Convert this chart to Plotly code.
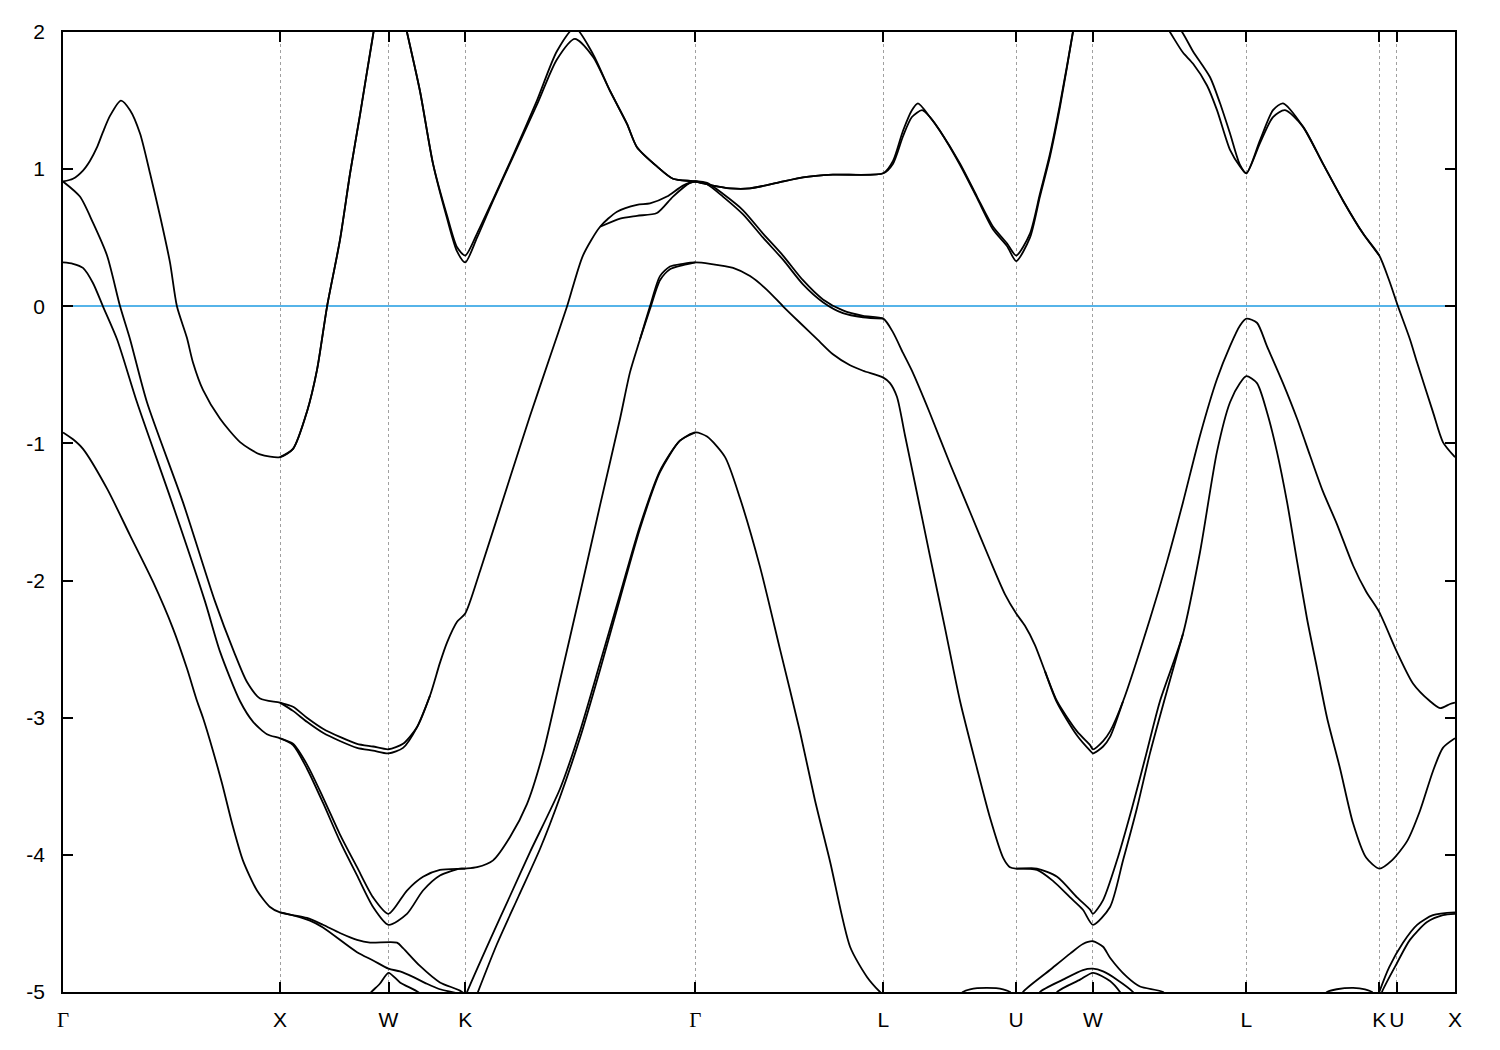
import plotly.graph_objects as go

# High-symmetry points along the k-path
kpath_pos = [0.0, 1.0, 1.5, 1.8536, 2.9142, 3.7802, 4.3926, 4.7462, 5.4533, 6.0657, 6.147, 6.4147]
kpath_lbl = ["Γ", "X", "W", "K", "Γ", "L", "U", "W", "L", "K", "U", "X"]
energy_ticks = [2, 1, 0, -1, -2, -3, -4, -5]

# Bands as (k, E) pairs
band_A1 = [(0, 0.91), (0.046, 0.93), (0.092, 0.99), (0.124, 1.06), (0.157, 1.16), (0.184, 1.27), (0.217, 1.39),
           (0.267, 1.50), (0.309, 1.43),
           (0.355, 1.26), (0.401, 0.97), (0.447, 0.66), (0.493, 0.32), (0.525, 0.0), (0.571, -0.23), (0.599, -0.41),
           (0.645, -0.61), (0.724, -0.82), (0.816, -0.99), (0.908, -1.08), (1.0, -1.10), (1.060, -1.04), (1.124, -0.77),
           (1.171, -0.46), (1.217, 0.0), (1.276, 0.48), (1.323, 0.97), (1.369, 1.40), (1.429, 1.98), (1.5, 2.6),
           (1.585, 2.0), (1.645, 1.57), (1.705, 1.04), (1.770, 0.66), (1.816, 0.43), (1.8536, 0.37), (1.908, 0.53),
           (1.982, 0.78), (2.074, 1.10), (2.184, 1.50), (2.276, 1.86), (2.359, 2.03), (2.442, 1.84), (2.521, 1.57),
           (2.599, 1.33), (2.645, 1.16), (2.737, 1.02), (2.811, 0.93), (2.9142, 0.91), (2.995, 0.88), (3.074, 0.86),
           (3.166, 0.86), (3.290, 0.90), (3.410, 0.94), (3.548, 0.96), (3.7802, 0.97), (3.825, 1.06), (3.871, 1.28),
           (3.912, 1.43), (3.940, 1.48), (3.995, 1.38), (4.041, 1.28), (4.134, 1.04), (4.212, 0.80), (4.286, 0.58),
           (4.350, 0.46), (4.3926, 0.37), (4.456, 0.53), (4.502, 0.82), (4.548, 1.11), (4.594, 1.47), (4.654, 2.0),
           (4.7462, 2.9), (5.101, 2.0), (5.161, 1.85), (5.207, 1.77), (5.272, 1.61), (5.318, 1.43), (5.378, 1.14),
           (5.424, 1.02), (5.4533, 0.97), (5.516, 1.21), (5.576, 1.43), (5.622, 1.48), (5.714, 1.31), (5.806, 1.04),
           (5.899, 0.77), (5.991, 0.53), (6.0657, 0.37), (6.111, 0.19), (6.152, 0.0), (6.207, -0.24), (6.240, -0.41),
           (6.313, -0.77), (6.359, -0.99), (6.4147, -1.10)]

band_A2 = [(1.0, -1.10), (1.060, -1.04), (1.124, -0.77), (1.171, -0.46), (1.217, 0.0), (1.276, 0.48), (1.323, 0.97),
           (1.369, 1.40), (1.429, 1.98), (1.5, 2.6), (1.585, 2.0), (1.645, 1.57), (1.705, 1.04), (1.770, 0.64),
           (1.816, 0.40), (1.8536, 0.32), (1.908, 0.50), (1.982, 0.77), (2.074, 1.09), (2.184, 1.47), (2.276, 1.80),
           (2.359, 1.95), (2.442, 1.82), (2.521, 1.57), (2.599, 1.33), (2.645, 1.16), (2.737, 1.02), (2.811, 0.93),
           (2.9142, 0.91), (2.995, 0.88), (3.074, 0.86), (3.166, 0.86), (3.290, 0.90), (3.410, 0.94), (3.548, 0.96),
           (3.7802, 0.97), (3.825, 1.04), (3.871, 1.24), (3.912, 1.38), (3.959, 1.43), (3.995, 1.38), (4.041, 1.28),
           (4.134, 1.03), (4.212, 0.79), (4.286, 0.56), (4.350, 0.44), (4.3926, 0.33), (4.456, 0.50), (4.502, 0.80),
           (4.548, 1.09), (4.594, 1.45), (4.654, 2.0), (4.7462, 2.9), (5.157, 2.0), (5.207, 1.86), (5.286, 1.67),
           (5.332, 1.48), (5.378, 1.26), (5.424, 1.03), (5.4533, 0.97), (5.516, 1.19), (5.576, 1.38), (5.631, 1.43),
           (5.714, 1.31), (5.806, 1.04), (5.899, 0.77), (5.991, 0.53), (6.0657, 0.37)]

band_B1 = [(0, 0.91), (0.078, 0.80), (0.138, 0.61), (0.203, 0.37), (0.263, 0.0), (0.309, -0.24), (0.387, -0.70),
           (0.553, -1.43), (0.700, -2.15), (0.788, -2.52), (0.848, -2.74), (0.908, -2.86), (1.0, -2.89), (1.060, -2.92),
           (1.124, -3.00), (1.198, -3.08), (1.276, -3.14), (1.355, -3.19), (1.429, -3.21), (1.5, -3.23), (1.567, -3.19),
           (1.631, -3.07), (1.691, -2.84), (1.737, -2.60), (1.770, -2.45), (1.816, -2.30), (1.8536, -2.24),
           (1.922, -1.93), (2.060, -1.25), (2.152, -0.80), (2.244, -0.37), (2.323, 0.0), (2.396, 0.37), (2.475, 0.58),
           (2.553, 0.69), (2.645, 0.74), (2.705, 0.75), (2.783, 0.80), (2.857, 0.88), (2.9142, 0.91), (2.968, 0.90),
           (3.041, 0.82), (3.134, 0.70), (3.226, 0.53), (3.318, 0.37), (3.410, 0.19), (3.502, 0.05), (3.594, -0.03),
           (3.687, -0.07), (3.7802, -0.09), (3.825, -0.19), (3.871, -0.34), (3.912, -0.47), (3.995, -0.78),
           (4.088, -1.15), (4.180, -1.50), (4.272, -1.85), (4.341, -2.10), (4.3926, -2.24), (4.433, -2.33),
           (4.479, -2.47), (4.525, -2.66), (4.581, -2.88), (4.673, -3.10), (4.733, -3.20), (4.7462, -3.23),
           (4.793, -3.17), (4.825, -3.10), (4.885, -2.88), (5.009, -2.28), (5.088, -1.86), (5.161, -1.43),
           (5.240, -0.94), (5.318, -0.53), (5.378, -0.29), (5.424, -0.14), (5.4533, -0.09), (5.502, -0.12),
           (5.548, -0.29), (5.622, -0.56), (5.687, -0.82), (5.747, -1.09), (5.806, -1.35), (5.871, -1.59),
           (5.945, -1.89), (6.005, -2.08), (6.0657, -2.23), (6.147, -2.52), (6.221, -2.75), (6.300, -2.88),
           (6.346, -2.93), (6.392, -2.90), (6.4147, -2.89)]

band_B2_XWK = [(1.0, -2.89), (1.060, -2.95), (1.124, -3.03), (1.198, -3.11), (1.276, -3.17), (1.355, -3.22),
               (1.429, -3.24), (1.5, -3.26), (1.567, -3.22), (1.631, -3.07), (1.691, -2.84)]
band_B2_KGL = [(2.475, 0.58), (2.567, 0.64), (2.645, 0.66), (2.737, 0.68), (2.811, 0.80), (2.889, 0.90),
               (2.9142, 0.91), (2.968, 0.89), (3.041, 0.80), (3.134, 0.67), (3.226, 0.50), (3.318, 0.34),
               (3.410, 0.16), (3.502, 0.03), (3.594, -0.05), (3.687, -0.08), (3.7802, -0.09)]
band_B2_UWL = [(4.525, -2.66), (4.581, -2.89), (4.673, -3.13), (4.733, -3.24), (4.7462, -3.26), (4.793, -3.21),
               (4.825, -3.14), (4.885, -2.88)]

band_C1 = [(0, 0.32), (0.046, 0.31), (0.092, 0.28), (0.138, 0.17), (0.184, 0.0), (0.249, -0.24), (0.341, -0.70),
           (0.502, -1.43), (0.654, -2.15), (0.724, -2.52), (0.816, -2.88), (0.876, -3.03), (0.940, -3.12),
           (1.0, -3.15), (1.060, -3.19), (1.124, -3.34), (1.198, -3.58), (1.276, -3.85), (1.355, -4.09),
           (1.429, -4.31), (1.5, -4.43), (1.585, -4.26), (1.659, -4.16), (1.737, -4.11), (1.8536, -4.10),
           (1.908, -4.09), (1.982, -4.04), (2.060, -3.87), (2.138, -3.63), (2.212, -3.26), (2.290, -2.73),
           (2.382, -2.10), (2.475, -1.45), (2.567, -0.82), (2.613, -0.48), (2.659, -0.24), (2.705, 0.0),
           (2.751, 0.22), (2.797, 0.29), (2.857, 0.31), (2.9142, 0.32), (2.982, 0.31), (3.088, 0.28), (3.166, 0.22),
           (3.244, 0.12), (3.318, 0.0), (3.396, -0.12), (3.475, -0.24), (3.548, -0.35), (3.627, -0.43),
           (3.687, -0.47), (3.7802, -0.52), (3.811, -0.56), (3.843, -0.66), (3.880, -0.94), (3.926, -1.29),
           (3.995, -1.82), (4.065, -2.35), (4.134, -2.88), (4.212, -3.37), (4.272, -3.73), (4.332, -4.02),
           (4.364, -4.09), (4.3926, -4.10), (4.488, -4.10), (4.581, -4.16), (4.673, -4.31), (4.733, -4.40),
           (4.7462, -4.43), (4.793, -4.33), (4.857, -4.04), (4.926, -3.66), (4.991, -3.27), (5.055, -2.88),
           (5.161, -2.39), (5.240, -1.79), (5.318, -1.06), (5.378, -0.70), (5.424, -0.56), (5.4533, -0.51),
           (5.502, -0.56), (5.548, -0.77), (5.594, -1.06), (5.641, -1.43), (5.687, -1.86), (5.733, -2.28),
           (5.779, -2.64), (5.825, -3.0), (5.885, -3.37), (5.945, -3.77), (6.005, -4.02), (6.0657, -4.10),
           (6.124, -4.04), (6.194, -3.90), (6.253, -3.68), (6.313, -3.39), (6.359, -3.22), (6.4147, -3.15)]

band_C2_XWK = [(1.0, -3.15), (1.060, -3.20), (1.124, -3.37), (1.198, -3.62), (1.276, -3.90), (1.355, -4.15),
               (1.429, -4.38), (1.5, -4.51), (1.585, -4.43), (1.659, -4.26), (1.737, -4.15), (1.829, -4.10),
               (1.8536, -4.10)]
band_C2_KG = [(2.659, -0.24), (2.705, -0.02), (2.751, 0.19), (2.797, 0.27), (2.857, 0.30), (2.9142, 0.32)]
band_C2_UWL = [(4.3926, -4.10), (4.488, -4.11), (4.562, -4.19), (4.641, -4.31), (4.700, -4.40), (4.7462, -4.51),
               (4.825, -4.38), (4.885, -4.04), (4.949, -3.66), (5.009, -3.26), (5.074, -2.88), (5.161, -2.39)]

band_D = [(0, -0.92), (0.046, -0.97), (0.092, -1.04), (0.203, -1.33), (0.309, -1.67), (0.415, -2.01),
          (0.507, -2.35), (0.571, -2.64), (0.618, -2.88), (0.645, -3.00), (0.691, -3.24), (0.733, -3.48),
          (0.779, -3.77), (0.829, -4.04), (0.894, -4.26), (0.954, -4.38), (1.0, -4.42), (1.124, -4.46),
          (1.198, -4.51), (1.276, -4.57), (1.355, -4.62), (1.415, -4.64), (1.539, -4.64), (1.567, -4.68),
          (1.645, -4.81), (1.737, -4.93), (1.829, -4.99), (1.88, -5.05)]
band_F = [(1.0, -4.42), (1.032, -4.43), (1.138, -4.48), (1.198, -4.53), (1.355, -4.71), (1.429, -4.77),
          (1.5, -4.83), (1.553, -4.85), (1.613, -4.89), (1.677, -4.94), (1.737, -4.98), (1.816, -5.01), (1.86, -5.05)]
band_G = [(1.40, -5.05), (1.415, -5.01), (1.46, -4.94), (1.5, -4.86), (1.553, -4.93), (1.645, -5.01), (1.66, -5.05)]

band_E1 = [(1.85, -5.05), (1.862, -5.0), (1.968, -4.62), (2.060, -4.30), (2.152, -3.98), (2.290, -3.52),
           (2.382, -3.10), (2.475, -2.60), (2.567, -2.10), (2.659, -1.60), (2.751, -1.20), (2.843, -0.98),
           (2.9142, -0.92), (2.968, -0.95), (3.051, -1.10), (3.120, -1.40), (3.212, -1.90), (3.304, -2.50),
           (3.396, -3.10), (3.465, -3.60), (3.535, -4.05), (3.627, -4.67), (3.705, -4.89), (3.765, -5.0),
           (3.80, -5.05)]
band_E2 = [(1.90, -5.05), (1.912, -5.0), (2.00, -4.65), (2.10, -4.30), (2.20, -3.95), (2.290, -3.58),
           (2.382, -3.15), (2.475, -2.65), (2.567, -2.13), (2.659, -1.62), (2.751, -1.21), (2.843, -0.98),
           (2.9142, -0.92)]

band_H1 = [(4.12, -5.05), (4.147, -5.0), (4.180, -4.98), (4.258, -4.97), (4.332, -4.98), (4.364, -5.0), (4.38, -5.05)]
band_H2 = [(5.80, -5.05), (5.825, -5.0), (5.87, -4.98), (5.945, -4.97), (6.00, -4.98), (6.032, -5.0), (6.05, -5.05)]
band_I1 = [(4.41, -5.05), (4.424, -5.0), (4.548, -4.84), (4.641, -4.72), (4.700, -4.65), (4.7462, -4.63),
           (4.793, -4.67), (4.825, -4.75), (4.903, -4.89), (4.963, -4.96), (5.069, -5.0), (5.09, -5.05)]
band_I2 = [(4.49, -5.05), (4.502, -5.0), (4.608, -4.91), (4.700, -4.84), (4.7462, -4.83), (4.793, -4.85),
           (4.857, -4.91), (4.931, -5.0), (4.95, -5.05)]
band_I3 = [(4.57, -5.05), (4.581, -5.0), (4.687, -4.91), (4.7462, -4.86), (4.825, -4.92), (4.871, -5.0), (4.89, -5.05)]
band_J1 = [(6.055, -5.05), (6.0657, -5.0), (6.111, -4.82), (6.175, -4.64), (6.240, -4.51), (6.313, -4.44), (6.4147, -4.42)]
band_J2 = [(6.07, -5.05), (6.078, -5.0), (6.147, -4.79), (6.207, -4.62), (6.286, -4.49), (6.359, -4.44), (6.4147, -4.43)]

bands = [band_A1, band_A2, band_B1, band_B2_XWK, band_B2_KGL, band_B2_UWL, band_C1, band_C2_XWK, band_C2_KG,
         band_C2_UWL, band_D, band_F, band_G, band_E1, band_E2, band_H1, band_H2, band_I1, band_I2, band_I3,
         band_J1, band_J2]

fig = go.Figure()
for b in bands:
    fig.add_trace(go.Scatter(
        x=[p[0] for p in b], y=[p[1] for p in b], mode="lines",
        line=dict(color="black", width=1.8, shape="spline", smoothing=0.7),
        showlegend=False, hoverinfo="skip"))

tick_text = ["<span style='font-family:Liberation Serif'>Γ</span>" if t == "Γ" else t for t in kpath_lbl]

fig.update_layout(
    width=1492, height=1042,
    margin=dict(l=55, r=45, t=17, b=58),
    paper_bgcolor="white", plot_bgcolor="white",
    font=dict(family="Liberation Sans, Arial, sans-serif", size=21, color="black"),
    showlegend=False,
)
fig.update_xaxes(
    range=[0, kpath_pos[-1]], tickmode="array", tickvals=kpath_pos, ticktext=tick_text,
    showgrid=True, gridcolor="#a0a0a0", gridwidth=1, griddash="dot",
    showline=True, linecolor="black", linewidth=1.5, mirror="allticks",
    ticks="inside", ticklen=10, tickwidth=1.5, tickcolor="black",
    ticklabelstandoff=8, zeroline=False,
)
fig.update_yaxes(
    range=[-5, 2], tickmode="array", tickvals=energy_ticks, ticktext=[str(v) for v in energy_ticks],
    showgrid=False, showline=True, linecolor="black", linewidth=1.5, mirror="allticks",
    ticks="inside", ticklen=10, tickwidth=1.5, tickcolor="black", ticklabelstandoff=12,
    zeroline=True, zerolinecolor="#56b4e9", zerolinewidth=1.5,
)

fig.write_html("out.html")
